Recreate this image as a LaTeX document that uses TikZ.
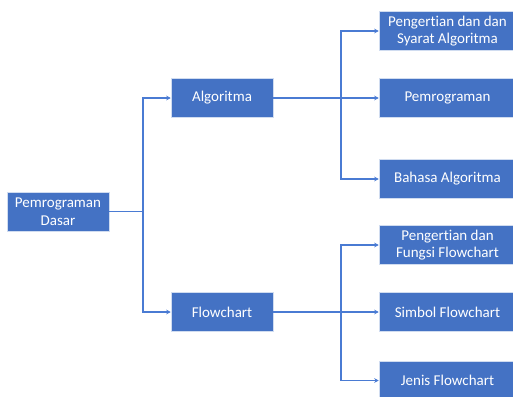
\documentclass[tikz,border=0pt]{standalone}
\usepackage{fontspec}
\setmainfont{Carlito}[Ligatures={NoCommon,NoRequired,NoContextual,NoRare}]
\usetikzlibrary{arrows.meta}
\definecolor{boxblue}{HTML}{4472C4}
\definecolor{lineblue}{HTML}{4A7BD3}

\begin{document}
\begin{tikzpicture}[x=1pt,y=-1pt,
  topic/.style={rectangle, fill=boxblue, draw=white!75!boxblue, line width=0.5pt,
    text=white, font=\fontsize{15}{17.5}\selectfont, align=center, inner sep=0pt},
  mainbox/.style={topic, minimum width=102pt, minimum height=39pt},
  subbox/.style={topic, minimum width=137pt, minimum height=39pt},
  link/.style={lineblue, line width=1.1pt},
  arrowlink/.style={link, -{Stealth[length=4.5pt,width=4.5pt]}}]
\useasboundingbox (0,0) rectangle (513,396);
% root and first level
\node[mainbox] (dasar) at (58,211.5) {Pemrograman\\Dasar};
\node[mainbox] (algo) at (222,98) {Algoritma};
\node[mainbox] (flow) at (222,312) {Flowchart};
% second level
\node[subbox] (pengalgo) at (447.5,31) {Pengertian dan dan\\Syarat Algoritma};
\node[subbox] (prog) at (447.5,98) {Pemrograman};
\node[subbox] (bahasa) at (447.5,179) {Bahasa Algoritma};
\node[subbox] (pengflow) at (447.5,245) {Pengertian dan\\Fungsi Flowchart};
\node[subbox] (simbol) at (447.5,312) {Simbol Flowchart};
\node[subbox] (jenis) at (447.5,380.5) {Jenis Flowchart};
% junctions
\coordinate (j0) at (143,211.5);
\coordinate (j1) at (341,98);
\coordinate (j2) at (341,312);
% connectors
\draw[link] (dasar) -- (j0);
\draw[arrowlink] (j0) |- (algo);
\draw[arrowlink] (j0) |- (flow);
\draw[link] (algo) -- (j1);
\draw[arrowlink] (j1) |- (pengalgo);
\draw[arrowlink] (j1) -- (prog);
\draw[arrowlink] (j1) |- (bahasa);
\draw[link] (flow) -- (j2);
\draw[arrowlink] (j2) |- (pengflow);
\draw[arrowlink] (j2) -- (simbol);
\draw[arrowlink] (j2) |- (jenis);
\end{tikzpicture}
\end{document}
